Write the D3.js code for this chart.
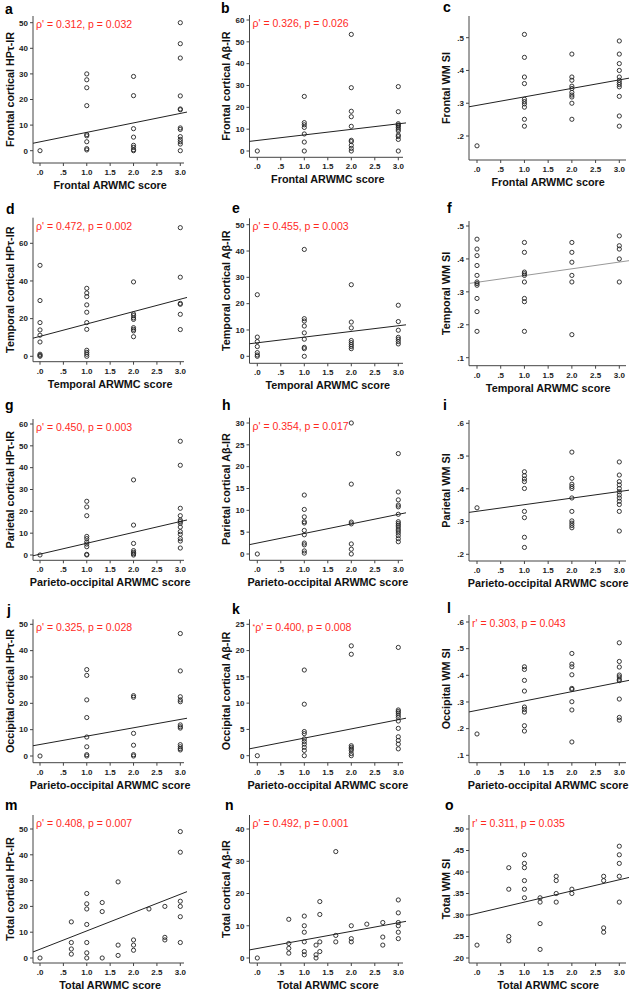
<!DOCTYPE html>
<html>
<head>
<meta charset="utf-8">
<script src="https://cdn.jsdelivr.net/npm/d3@7"></script>
<style>
body { margin: 0; background: #fff; }
svg text { font-family: "Liberation Sans", Arial, sans-serif; }
</style>
</head>
<body>
<svg id="canvas" width="630" height="992"></svg>
<script>
// x axis is the same everywhere
const xTicks = [0, 0.5, 1, 1.5, 2, 2.5, 3];
const xTickLabels = [".0", ".5", "1.0", "1.5", "2.0", "2.5", "3.0"];

// points: [ARWMC score, value]
const frontalTau = [[0,0],
  [1,30],[1,27.7],[1,24.6],[1,17.6],[1,6.3],[1,5.8],[1,3.5],[1,0.8],[1,0.3],
  [2,29],[2,21.5],[2,8.6],[2,5.3],[2,2.1],[2,1.3],[2,0.4],[2,0],
  [3,50],[3,41.8],[3,36.2],[3,21.4],[3,16.3],[3,16],[3,8.9],[3,8.3],[3,5.5],[3,4.4],[3,3.5],[3,2.6],[3,0]];
const frontalAb = [[0,0],
  [1,25],[1,13],[1,12],[1,10.8],[1,7.8],[1,4.1],[1,0],
  [2,53.4],[2,29],[2,18.2],[2,15.7],[2,11.3],[2,4.9],[2,4.3],[2,2.6],[2,1.2],[2,0],
  [3,29.5],[3,18],[3,12.5],[3,11.9],[3,11.5],[3,10.8],[3,10],[3,9.2],[3,7.3],[3,6.6],[3,5.3],[3,0]];
const frontalWm = [[0,0.17],
  [1,0.51],[1,0.44],[1,0.38],[1,0.36],[1,0.312],[1,0.305],[1,0.298],[1,0.288],[1,0.251],[1,0.23],
  [2,0.45],[2,0.38],[2,0.37],[2,0.352],[2,0.345],[2,0.333],[2,0.325],[2,0.319],[2,0.3],[2,0.251],
  [3,0.49],[3,0.45],[3,0.421],[3,0.4],[3,0.38],[3,0.37],[3,0.363],[3,0.357],[3,0.35],[3,0.321],[3,0.261],[3,0.23]];
const temporalTau = [[0,48.3],[0,29.6],[0,17.9],[0,14],[0,11.2],[0,7.6],[0,1.1],[0,0.5],[0,0],
  [1,36.1],[1,33.6],[1,31.7],[1,27.3],[1,23.4],[1,17.9],[1,14.3],[1,3.2],[1,2.1],[1,1.1],[1,0],
  [2,39.5],[2,22.5],[2,21.6],[2,20.4],[2,19.6],[2,15.2],[2,14.3],[2,13.5],[2,10.4],
  [3,68.3],[3,42],[3,28.1],[3,27.6],[3,22.3],[3,14.2]];
const temporalAb = [[0,23.4],[0,7.3],[0,5.6],[0,3.7],[0,1.4],[0,0.5],[0,0],
  [1,40.6],[1,14.3],[1,13.4],[1,11.5],[1,8.9],[1,6.5],[1,3.4],[1,2.9],[1,0],
  [2,27.2],[2,13],[2,10.8],[2,6],[2,5.2],[2,4.4],[2,3.7],[2,2.9],
  [3,19.4],[3,13.2],[3,9.9],[3,7.2],[3,6.5],[3,5.6],[3,4.7]];
const temporalWm = [[0,0.46],[0,0.43],[0,0.41],[0,0.38],[0,0.35],[0,0.33],[0,0.325],[0,0.32],[0,0.28],[0,0.24],[0,0.18],
  [1,0.45],[1,0.42],[1,0.36],[1,0.355],[1,0.35],[1,0.33],[1,0.28],[1,0.27],[1,0.18],
  [2,0.45],[2,0.42],[2,0.39],[2,0.35],[2,0.33],[2,0.17],
  [3,0.47],[3,0.44],[3,0.43],[3,0.4],[3,0.33]];
const parietalTau = [[0,0],
  [1,24.6],[1,22],[1,18],[1,8.5],[1,7.5],[1,6],[1,5],[1,3.8],[1,0.3],[1,0],
  [2,34.4],[2,13.7],[2,5.3],[2,2],[2,1.2],[2,0.6],[2,0],
  [3,52.1],[3,41.1],[3,21.4],[3,18],[3,16],[3,15.3],[3,14.5],[3,12.8],[3,10.7],[3,9.5],[3,7.5],[3,6.4],[3,3.2]];
const parietalAb = [[0,0],
  [1,13.5],[1,10.2],[1,8.5],[1,7.4],[1,7.1],[1,5.4],[1,4.4],[1,2.5],[1,2.1],[1,0.7],[1,0.2],
  [2,30],[2,16],[2,7.3],[2,6.9],[2,2.3],[2,1.1],[2,0],
  [3,23],[3,14.2],[3,12.4],[3,11.2],[3,10.8],[3,9.1],[3,7.4],[3,7],[3,6.6],[3,6.2],[3,5.7],[3,5.3],[3,4.8],[3,4.2],[3,3.5],[3,2.8]];
const parietalWm = [[0,0.342],
  [1,0.452],[1,0.44],[1,0.43],[1,0.422],[1,0.401],[1,0.331],[1,0.312],[1,0.252],[1,0.221],
  [2,0.512],[2,0.432],[2,0.414],[2,0.407],[2,0.401],[2,0.372],[2,0.331],[2,0.302],[2,0.295],[2,0.288],[2,0.281],
  [3,0.482],[3,0.442],[3,0.422],[3,0.412],[3,0.401],[3,0.391],[3,0.381],[3,0.372],[3,0.362],[3,0.352],[3,0.331],[3,0.271]];
const occipitalTau = [[0,0],
  [1,32.8],[1,30.6],[1,21.3],[1,14.6],[1,7.2],[1,3.5],[1,0.5],[1,0],
  [2,22.9],[2,22.3],[2,8.6],[2,4.1],[2,0.5],[2,0],
  [3,46.5],[3,32.3],[3,22.5],[3,21.3],[3,20.6],[3,11.8],[3,11.1],[3,10.6],[3,4.3],[3,3.5],[3,2.8],[3,2.3]];
const occipitalAb = [[0,0],
  [1,16.3],[1,9.8],[1,4.6],[1,4.2],[1,3.2],[1,2.7],[1,2.2],[1,1.6],[1,1],[1,0],
  [2,20.9],[2,19.3],[2,1.9],[2,1.6],[2,1.3],[2,1],[2,0.4],[2,0],
  [3,20.6],[3,8.7],[3,8.4],[3,8.1],[3,7.7],[3,7.3],[3,6.6],[3,5.2],[3,3.6],[3,2.9],[3,2.2],[3,1.3]];
const occipitalWm = [[0,0.18],
  [1,0.432],[1,0.422],[1,0.381],[1,0.341],[1,0.281],[1,0.272],[1,0.262],[1,0.211],[1,0.191],
  [2,0.482],[2,0.442],[2,0.432],[2,0.402],[2,0.351],[2,0.347],[2,0.301],[2,0.27],[2,0.15],
  [3,0.522],[3,0.452],[3,0.431],[3,0.401],[3,0.394],[3,0.385],[3,0.38],[3,0.311],[3,0.242],[3,0.232]];
const totalTau = [[0,0],
  [0.67,14],[0.67,6],[0.67,3.5],[0.67,1.5],
  [1,25],[1,21],[1,19],[1,13],[1,6],[1,2],[1,0],
  [1.33,21.5],[1.33,18],[1.33,0],
  [1.67,29.5],[1.67,5],[1.67,1],
  [2,7],[2,5],[2,3],
  [2.33,19],
  [2.67,20],[2.67,8],[2.67,7],
  [3,49],[3,41],[3,22],[3,20],[3,16],[3,6]];
const totalAb = [[0,0],
  [0.67,12],[0.67,4.5],[0.67,3],[0.67,1.5],
  [1,13],[1,10],[1,8],[1,5],[1,2],[1,1],
  [1.25,4],[1.25,1],[1.25,0],
  [1.33,17.5],[1.33,13.5],[1.33,5],[1.33,2],
  [1.67,33],[1.67,7],[1.67,5],
  [2,10],[2,6],[2,5],
  [2.33,10.5],
  [2.67,11],[2.67,6.5],[2.67,4],
  [3,18],[3,14],[3,11],[3,10],[3,8],[3,6]];
const totalWm = [[0,0.23],
  [0.67,0.41],[0.67,0.36],[0.67,0.25],[0.67,0.24],
  [1,0.44],[1,0.42],[1,0.41],[1,0.38],[1,0.36],[1,0.34],
  [1.33,0.34],[1.33,0.33],[1.33,0.28],[1.33,0.22],
  [1.67,0.39],[1.67,0.38],[1.67,0.35],[1.67,0.33],
  [2,0.36],[2,0.35],
  [2.67,0.39],[2.67,0.38],[2.67,0.27],[2.67,0.26],
  [3,0.46],[3,0.44],[3,0.42],[3,0.39],[3,0.33]];

const panelData = [frontalTau, frontalAb, frontalWm, temporalTau, temporalAb, temporalWm,
  parietalTau, parietalAb, parietalWm, occipitalTau, occipitalAb, occipitalWm, totalTau, totalAb, totalWm];
const panelLetters = ["a","b","c","d","e","f","g","h","i","j","k","l","m","n","o"];
const yTitles = ["Frontal cortical HPτ-IR", "Frontal cortical Aβ-IR", "Frontal WM SI",
  "Temporal cortical HPτ-IR", "Temporal cortical Aβ-IR", "Temporal WM SI",
  "Parietal cortical HPτ-IR", "Parietal cortical Aβ-IR", "Parietal WM SI",
  "Occipital cortical HPτ-IR", "Occipital cortical Aβ-IR", "Occipital WM SI",
  "Total cortical HPτ-IR", "Total cortical Aβ-IR", "Total WM SI"];
const xTitles = ["Frontal ARWMC score", "Temporal ARWMC score", "Parieto-occipital ARWMC score",
  "Parieto-occipital ARWMC score", "Total ARWMC score"];
const statTexts = ["ρ' = 0.312, p = 0.032", "ρ' = 0.326, p = 0.026", "",
  "ρ' = 0.472, p = 0.002", "ρ' = 0.455, p = 0.003", "",
  "ρ' = 0.450, p = 0.003", "ρ' = 0.354, p = 0.017", "",
  "ρ' = 0.325, p = 0.028", "*ρ' = 0.400, p = 0.008", "r' = 0.303, p = 0.043",
  "ρ' = 0.408, p = 0.007", "ρ' = 0.492, p = 0.001", "r' = 0.311, p = 0.035"];
// fitted line: [intercept, slope]
const fitLines = [[3.46,3.7],[4.83,2.54],[0.2935,0.0259],[10.6,6.57],[5.13,2.16],[0.329,0.0205],
  [0.39,4.98],[2.51,2.19],[0.3314,0.0201],[4.37,3.17],[1.6,1.75],[0.2686,0.0351],
  [3.4,7.1],[2.95,2.66],[0.304,0.026]];
const yTickSets = [[0,10,20,30,40,50],[0,10,20,30,40,50,60],[0.2,0.3,0.4,0.5],
  [0,20,40,60],[0,10,20,30,40,50],[0.1,0.2,0.3,0.4,0.5],
  [0,10,20,30,40,50,60],[0,5,10,15,20,25,30],[0.2,0.3,0.4,0.5,0.6],
  [0,10,20,30,40,50],[0,5,10,15,20,25],[0.1,0.2,0.3,0.4,0.5,0.6],
  [0,10,20,30,40,50],[0,10,20,30,40],[0.2,0.25,0.3,0.35,0.4,0.45,0.5]];

// layout (pixels)
const colGeom = [
    { axis: 33, x0: 40, x3: 180.3, end: 184 },
    { axis: 249.5, x0: 257.3, x3: 398.3, end: 403 },
    { axis: 469, x0: 477, x3: 619.3, end: 626 },
];
// top, bottom, px of first y tick, px of last y tick
const rowGeom = [
    [16,163,150.7,22.7],[15,157.3,151,20],[16,160,136,37.7],
    [217.7,361.7,356.3,243.3],[218.3,363.3,356.3,224.7],[221,365.7,357.7,226],
    [419,560.3,555,424],[417.7,560.3,554,423],[420,561,554.3,423.3],
    [619.3,762.7,756,624.3],[619.3,762.7,755.7,624.3],[615,762.7,755.3,622],
    [815,963,958,829],[815,963,958,829],[815,963,958,829],
];
const labelPos = [[5,14],[221,13],[443,12],[6,214],[232,213],[447,213],
    [5,410],[222,410],[443,410],[7,615],[232,614],[447,613],[5,810],[225,810],[445,810]];

const svg = d3.select("#canvas");
const axisColor = "#444";
const statColor = "#ff2a1f";

function fmtY(v, i) {
    if (i === 14) return d3.format(".2f")(v).replace(/^0/, "");
    if (v < 1 && v > 0) return d3.format(".1f")(v).replace(/^0/, "");
    return String(v);
}

function drawPanel(i) {
    const col = colGeom[i % 3];
    const [top, bottom, p0, p1] = rowGeom[i];
    const ticks = yTickSets[i];
    const g = svg.append("g");

    const x = d3.scaleLinear().domain([0, 3]).range([col.x0, col.x3]);
    const y = d3.scaleLinear().domain([ticks[0], ticks[ticks.length - 1]]).range([p0, p1]);

    // axes
    g.append("line")
        .attr("x1", col.axis).attr("y1", top)
        .attr("x2", col.axis).attr("y2", bottom)
        .attr("stroke", axisColor).attr("stroke-width", 1);
    g.append("line")
        .attr("x1", col.axis).attr("y1", bottom)
        .attr("x2", col.end).attr("y2", bottom)
        .attr("stroke", axisColor).attr("stroke-width", 1);

    ticks.forEach(t => {
        g.append("line")
            .attr("x1", col.axis - 3).attr("x2", col.axis)
            .attr("y1", y(t)).attr("y2", y(t))
            .attr("stroke", axisColor);
        g.append("text")
            .attr("x", col.axis - 5).attr("y", y(t)).attr("dy", "0.35em")
            .attr("text-anchor", "end")
            .attr("font-size", 8).attr("font-weight", "bold").attr("fill", "#222")
            .text(fmtY(t, i));
    });

    xTicks.forEach((t, k) => {
        g.append("line")
            .attr("x1", x(t)).attr("x2", x(t))
            .attr("y1", bottom).attr("y2", bottom + 3)
            .attr("stroke", axisColor);
        g.append("text")
            .attr("x", x(t)).attr("y", bottom + 12)
            .attr("text-anchor", "middle")
            .attr("font-size", 8).attr("font-weight", "bold").attr("fill", "#222")
            .text(xTickLabels[k]);
    });

    // titles
    g.append("text")
        .attr("x", (col.x0 + col.x3) / 2).attr("y", bottom + 26)
        .attr("text-anchor", "middle")
        .attr("font-size", 10.8).attr("font-weight", "bold").attr("fill", "#111")
        .text(xTitles[Math.floor(i / 3)]);
    g.append("text")
        .attr("transform", `translate(${col.axis - 23},${(top + bottom) / 2}) rotate(-90)`)
        .attr("dy", "0.35em")
        .attr("text-anchor", "middle")
        .attr("font-size", 10.8).attr("font-weight", "bold").attr("fill", "#111")
        .text(yTitles[i]);

    g.append("text")
        .attr("x", labelPos[i][0]).attr("y", labelPos[i][1])
        .attr("font-size", 14).attr("font-weight", "bold").attr("fill", "#000")
        .text(panelLetters[i]);

    // regression line
    const [b0, b1] = fitLines[i];
    const xa = x.invert(col.axis), xb = x.invert(col.end + 3);
    g.append("line")
        .attr("x1", x(xa)).attr("y1", y(b0 + b1 * xa))
        .attr("x2", x(xb)).attr("y2", y(b0 + b1 * xb))
        .attr("stroke", i === 5 ? "#999" : "#222").attr("stroke-width", 1);

    g.selectAll("circle")
        .data(panelData[i])
        .join("circle")
        .attr("cx", d => x(d[0])).attr("cy", d => y(d[1]))
        .attr("r", 2.1)
        .attr("fill", "none").attr("stroke", "#222").attr("stroke-width", 0.9);

    // stats label
    const s = statTexts[i];
    if (s) {
        const t = g.append("text")
            .attr("x", col.axis + 3).attr("y", top + 12)
            .attr("font-size", 10.5).attr("fill", statColor);
        if (s[0] === "*") {
            t.append("tspan").attr("font-size", 7).attr("dy", -2).text("*");
            t.append("tspan").attr("dy", 2).text(s.slice(1));
        } else {
            t.text(s);
        }
    }
}

panelData.forEach((d, i) => drawPanel(i));
</script>
</body>
</html>
